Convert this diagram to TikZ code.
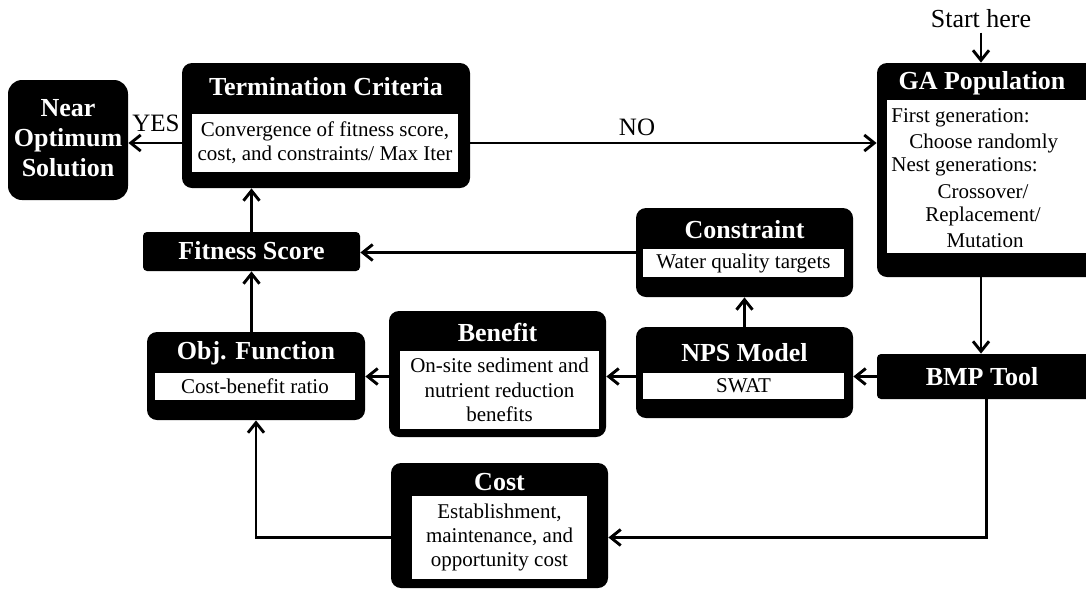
\documentclass[tikz,border=0pt]{standalone}
\usepackage{fontspec}
\setmainfont{Liberation Serif}
\usetikzlibrary{arrows.meta}

\begin{document}
\begin{tikzpicture}[x=0.5pt,y=-0.5pt,
 outer/.style={fill=black,rounded corners=5pt,inner sep=0pt},
 inbox/.style={fill=white,inner sep=0pt,align=center,font=\fontsize{10.5}{12.2}\selectfont},
 head/.style={text=white,inner sep=0pt,align=center,font=\fontsize{13}{15}\selectfont\bfseries},
 plain/.style={inner sep=0pt,font=\fontsize{10.5}{12.2}\selectfont},
 lbl/.style={inner sep=2pt,font=\fontsize{12.5}{15}\selectfont},
 arr/.style={line width=1.45pt,-{Straight Barb[length=5pt,width=8pt]}}]
\def\pu{0.5pt}

\useasboundingbox (0,0) rectangle (1086,590);

%near optimum
\node[outer,rounded corners=7pt,minimum width=120*\pu,minimum height=120*\pu] (near) at (68,140) {};
\node[head] at (68,138) {Near\\Optimum\\Solution};

%termination
\node[outer,minimum width=288*\pu,minimum height=125*\pu] (term) at (326,125.5) {};
\node[head] at (326,87) {Termination Criteria};
\node[inbox,minimum width=266*\pu,minimum height=58*\pu] (termbody) at (325,143)
 {Convergence of fitness score,\\cost, and constraints/ Max Iter};

%GA
\node[lbl,font=\fontsize{13}{15}\selectfont] (start) at (981,19) {Start here};
\node[outer,minimum width=219*\pu,minimum height=214*\pu] (ga) at (986.5,170) {};
\node[head] at (982,83) {GA Population};
\node[fill=white,inner sep=0pt,minimum width=199*\pu,minimum height=153*\pu] (gabody) at (986.5,176.5) {};
\node[plain,anchor=west] at (891,118) {First generation:};
\node[plain,anchor=west] at (909,143) {Choose randomly};
\node[plain,anchor=west] at (891,167) {Nest generations:};
\node[plain] at (983,192) {Crossover/};
\node[plain] at (983,216) {Replacement/};
\node[plain] at (985,241) {Mutation};

%fitness
\node[outer,rounded corners=2pt,minimum width=217*\pu,minimum height=39*\pu] (fit) at (251.5,251.5) {};
\node[head] at (251.5,251) {Fitness Score};

%constraint
\node[outer,minimum width=217*\pu,minimum height=89*\pu] (cons) at (744.5,252.5) {};
\node[head] at (744.5,230) {Constraint};
\node[inbox,minimum width=201*\pu,minimum height=28*\pu] (consbody) at (743.5,263) {Water quality targets};

%obj
\node[outer,minimum width=218*\pu,minimum height=88*\pu] (obj) at (256,376) {};
\node[head] at (256,353) {Obj. Function};
\node[inbox,minimum width=200*\pu,minimum height=27*\pu] (objbody) at (255,386.5) {Cost-benefit ratio};

%benefit
\node[outer,minimum width=217*\pu,minimum height=126*\pu] (ben) at (497.5,374) {};
\node[head] at (497.5,332) {Benefit};
\node[inbox,minimum width=199*\pu,minimum height=78*\pu] (benbody) at (499.5,390)
 {On-site sediment and\\nutrient reduction\\benefits};

%nps
\node[outer,minimum width=217*\pu,minimum height=91*\pu] (nps) at (744.5,372.5) {};
\node[head] at (744.5,353) {NPS Model};
\node[inbox,minimum width=201*\pu,minimum height=26*\pu] (npsbody) at (743.5,386) {SWAT};

%bmp
\node[outer,rounded corners=2pt,minimum width=219*\pu,minimum height=45*\pu] (bmp) at (986.5,376.5) {};
\node[head] at (982,377) {BMP Tool};

%cost
\node[outer,minimum width=217*\pu,minimum height=125*\pu] (cost) at (499.5,525.5) {};
\node[head] at (499.5,482) {Cost};
\node[inbox,minimum width=175*\pu,minimum height=83*\pu] (costbody) at (499.5,537.5)
 {Establishment,\\maintenance, and\\opportunity cost};

%links
\draw[arr] (start.south) -- (start.south |- ga.north);
\draw[arr] (term.west |- termbody) -- (near.east |- termbody);
\node[lbl] at (156,123) {YES};
\draw[arr] (term.east |- termbody) -- (ga.west |- termbody);
\node[lbl] at (637,127) {NO};
\draw[arr] (ga.south -| start) -- (bmp.north -| start);
\draw[arr] (bmp.west) -- (nps.east |- bmp.west);
\draw[arr] (nps.west |- bmp.west) -- (ben.east |- bmp.west);
\draw[arr] (ben.west |- bmp.west) -- (obj.east |- bmp.west);
\draw[arr] (nps.north) -- (cons.south);
\draw[arr] (cons.west) -- (cons.west -| fit.east);
\draw[arr] (fit.north) -- (fit.north |- term.south);
\draw[arr] (fit.south |- obj.north) -- (fit.south);
\draw[arr] (bmp.south) |- (cost.east |- costbody);
\draw[arr] (cost.west |- costbody) -| (obj.south);

\end{tikzpicture}
\end{document}
